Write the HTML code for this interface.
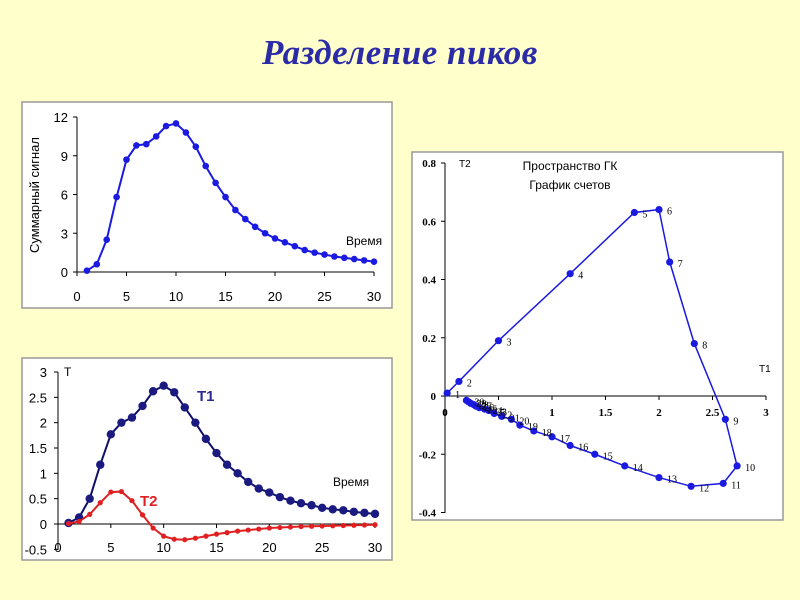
<!DOCTYPE html>
<html><head><meta charset="utf-8"><style>
html,body{margin:0;padding:0}
body{width:800px;height:600px;background:#ffffcc;position:relative;overflow:hidden;font-family:"Liberation Sans",sans-serif}
#title{position:absolute;left:0;width:800px;top:33px;text-align:center;font:bold italic 35px "Liberation Serif",serif;color:#2b2ba8;letter-spacing:0.5px}
svg{position:absolute;left:0;top:0}
</style></head><body>
<div id="title">Разделение пиков</div>
<svg id="s" width="800" height="600"></svg>
<script>
const times=[1,2,3,4,5,6,7,8,9,10,11,12,13,14,15,16,17,18,19,20,21,22,23,24,25,26,27,28,29,30];
const sumSignal=[0.1,0.6,2.5,5.8,8.7,9.8,9.9,10.5,11.3,11.5,10.8,9.7,8.2,6.9,5.8,4.8,4.1,3.5,3.0,2.6,2.3,2.0,1.7,1.5,1.35,1.2,1.1,1.0,0.9,0.8];
const t1=[0.02,0.13,0.5,1.17,1.77,2.0,2.1,2.33,2.62,2.73,2.6,2.3,2.0,1.68,1.4,1.17,1.0,0.83,0.7,0.62,0.53,0.46,0.41,0.37,0.32,0.29,0.27,0.24,0.22,0.2];
const t2=[0.01,0.05,0.19,0.42,0.63,0.64,0.46,0.18,-0.08,-0.24,-0.3,-0.31,-0.28,-0.24,-0.2,-0.17,-0.14,-0.12,-0.1,-0.08,-0.07,-0.06,-0.05,-0.045,-0.04,-0.035,-0.03,-0.025,-0.02,-0.015];
const xTicks1=[0,5,10,15,20,25,30];
const yTicks1=[0,3,6,9,12];
const yTicks2=[-0.5,0,0.5,1,1.5,2,2.5,3];
const xTicks3=[0,0.5,1,1.5,2,2.5,3];
const yTicks3=[-0.4,-0.2,0,0.2,0.4,0.6,0.8];
const svg=document.getElementById('s');const NS='http://www.w3.org/2000/svg';
function el(t,a,txt){const e=document.createElementNS(NS,t);for(const k in a)e.setAttribute(k,a[k]);if(txt!==undefined)e.textContent=txt;svg.appendChild(e);return e;}
function lin(d0,d1,r0,r1){return v=>r0+(v-d0)/(d1-d0)*(r1-r0);}
[[22,102,370,206,'panel-sum-signal'],[22,358,370,202,'panel-t-scores'],[412,152,371,368,'panel-score-plot']].forEach(p=>{
 const r=el('rect',{x:p[0],y:p[1],width:p[2],height:p[3],fill:'#fff',stroke:'#999','stroke-width':1.5});
 });
{const X=lin(0,30,77,374),Y=lin(0,12,272,117);
 el('line',{x1:77,y1:117,x2:77,y2:272,stroke:'#000'});el('line',{x1:77,y1:272,x2:374,y2:272,stroke:'#000'});
 xTicks1.forEach(v=>{el('line',{x1:X(v),y1:272,x2:X(v),y2:276,stroke:'#000'});const t=el('text',{x:X(v),y:301,'font-size':13,'text-anchor':'middle'},v);});
 yTicks1.forEach(v=>{el('line',{x1:73,y1:Y(v),x2:77,y2:Y(v),stroke:'#000'});const t=el('text',{x:68,y:Y(v)+5,'font-size':13,'text-anchor':'end'},v);});
 const yt=el('text',{x:0,y:0,'font-size':13,'text-anchor':'middle',transform:'translate(39,195) rotate(-90)'},'Суммарный сигнал');
 const xt=el('text',{x:346,y:245,'font-size':12},'Время');
 const pl=el('polyline',{points:times.map((t,i)=>X(t)+','+Y(sumSignal[i])).join(' '),fill:'none',stroke:'#1a1ae0','stroke-width':2});
 times.forEach((t,i)=>{const c=el('circle',{cx:X(t),cy:Y(sumSignal[i]),r:3.3,fill:'#1a1ae0'});});}
{const X=lin(0,30,58,375),Y=lin(0,3,524,372);
 el('line',{x1:58,y1:372,x2:58,y2:550,stroke:'#000'});el('line',{x1:58,y1:524,x2:375,y2:524,stroke:'#000'});
 xTicks1.forEach(v=>{el('line',{x1:X(v),y1:524,x2:X(v),y2:528,stroke:'#000'});const t=el('text',{x:X(v),y:552,'font-size':13,'text-anchor':'middle'},v);});
 yTicks2.forEach(v=>{el('line',{x1:54,y1:Y(v),x2:58,y2:Y(v),stroke:'#000'});const t=el('text',{x:47,y:Y(v)+5,'font-size':13,'text-anchor':'end'},v);});
 el('text',{x:64,y:376,'font-size':12},'T');
 const xt=el('text',{x:333,y:486,'font-size':12},'Время');
 const l1=el('text',{x:197,y:401,'font-size':15,'font-weight':'bold',fill:'#2b2b90'},'T1');
 const l2=el('text',{x:140,y:506,'font-size':15,'font-weight':'bold',fill:'#e02020'},'T2');
 const p1=el('polyline',{points:times.map((t,i)=>X(t)+','+Y(t1[i])).join(' '),fill:'none',stroke:'#10106a','stroke-width':2});
 times.forEach((t,i)=>{const c=el('circle',{cx:X(t),cy:Y(t1[i]),r:4.2,fill:'#1a1a80'});});
 const p2=el('polyline',{points:times.map((t,i)=>X(t)+','+Y(t2[i])).join(' '),fill:'none',stroke:'#e02020','stroke-width':2});
 times.forEach((t,i)=>{const c=el('circle',{cx:X(t),cy:Y(t2[i]),r:2.6,fill:'#e02020'});});}
{const X=lin(0,3,445,766),Y=lin(0,0.8,396,163);
 el('line',{x1:445,y1:163,x2:445,y2:513,stroke:'#000'});el('line',{x1:445,y1:396,x2:766,y2:396,stroke:'#000'});
 xTicks3.forEach(v=>{el('line',{x1:X(v),y1:396,x2:X(v),y2:400,stroke:'#000'});const t=el('text',{x:X(v),y:416,'font-size':11,'font-weight':'bold','font-family':'Liberation Serif,serif','text-anchor':'middle'},v);});
 yTicks3.forEach(v=>{el('line',{x1:441,y1:Y(v),x2:445,y2:Y(v),stroke:'#000'});const t=el('text',{x:436,y:Y(v)+4,'font-size':11,'font-weight':'bold','font-family':'Liberation Serif,serif','text-anchor':'end'},v);});
 el('text',{x:459,y:167,'font-size':10},'T2');el('text',{x:759,y:372,'font-size':10},'T1');
 const tt=el('text',{x:570,y:170,'font-size':12,'text-anchor':'middle'},'Пространство ГК');
 el('text',{x:570,y:189,'font-size':12,'text-anchor':'middle'},'График счетов');
 const p=el('polyline',{points:times.map((t,i)=>X(t1[i])+','+Y(t2[i])).join(' '),fill:'none',stroke:'#1a1ae0','stroke-width':1.5});
 times.forEach((t,i)=>{const c=el('circle',{cx:X(t1[i]),cy:Y(t2[i]),r:3.6,fill:'#1a1ae0'});
  const l=el('text',{x:X(t1[i])+8,y:Y(t2[i])+5,'font-size':10,'font-family':'Liberation Serif,serif'},t);});}
</script>
</body></html>
